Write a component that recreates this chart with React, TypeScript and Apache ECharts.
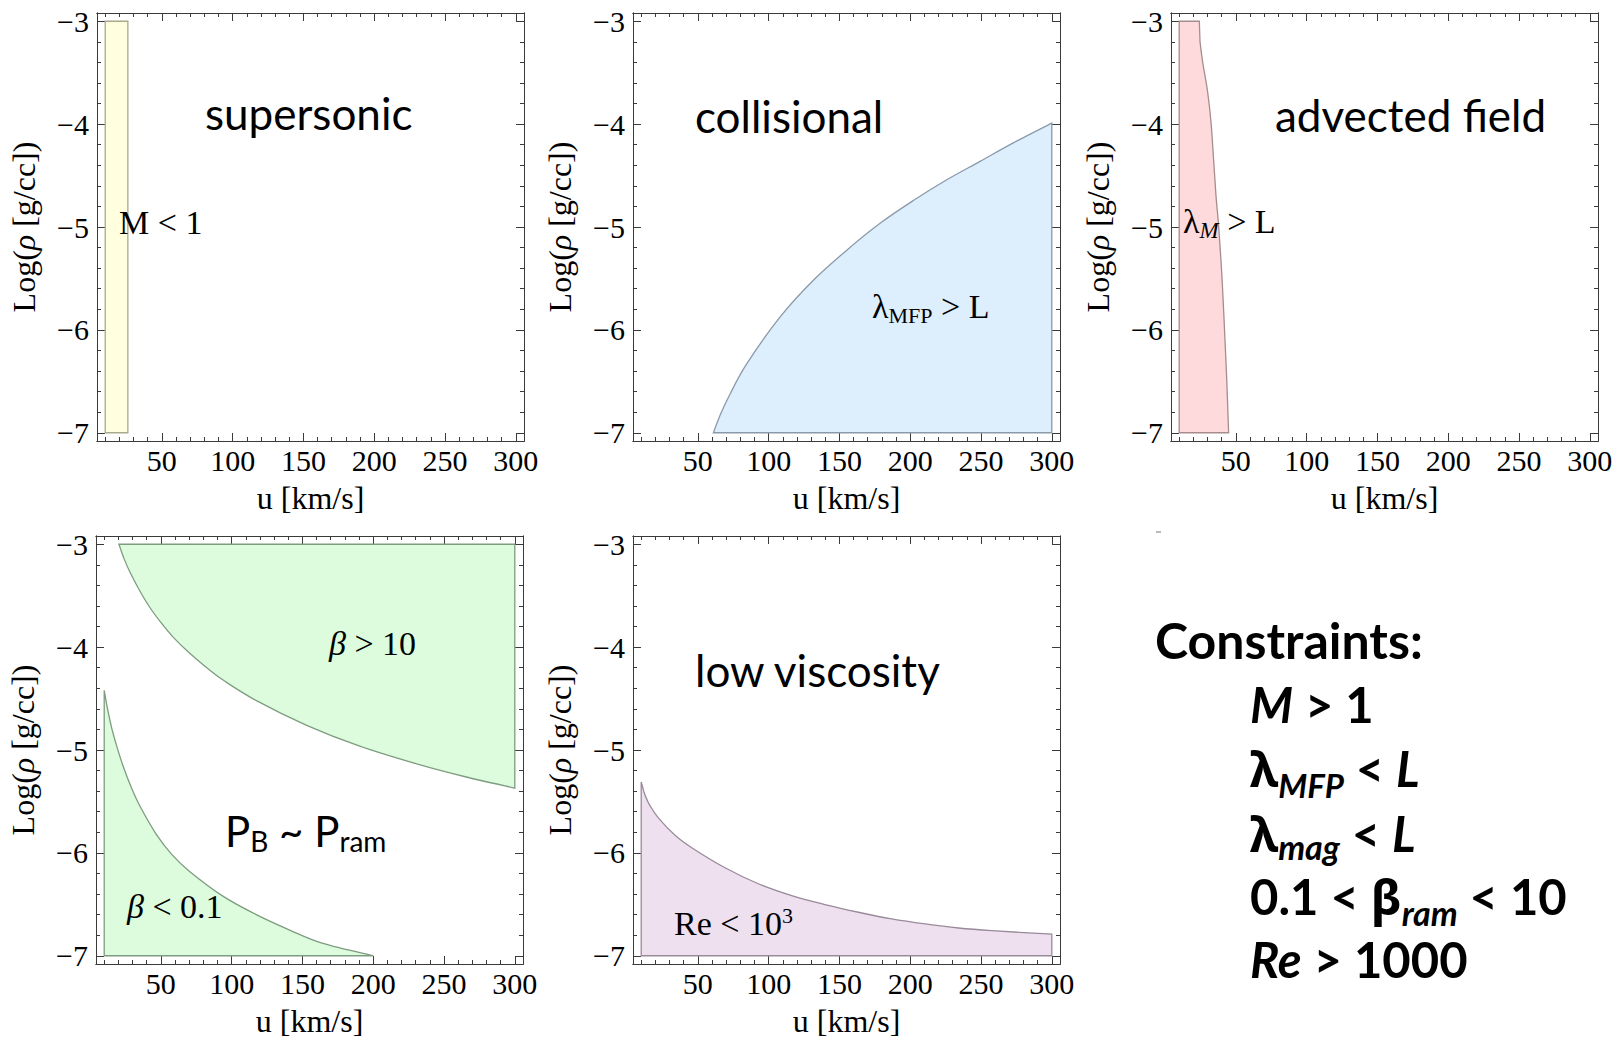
import React, { useEffect, useRef } from "react";
import * as echarts from "echarts";

// ---------- axis ranges & ticks ----------
const X_MIN = 4.2;
const X_MAX = 305.8;
const Y_MIN = -7.08;
const Y_MAX = -2.92;
const X_MAJOR_TICKS = [50, 100, 150, 200, 250, 300];
const X_MINOR_TICKS = [10, 20, 30, 40, 60, 70, 80, 90, 110, 120, 130, 140, 160, 170, 180, 190, 210, 220, 230, 240, 260, 270, 280, 290];
const Y_MAJOR_TICKS = [-7, -6, -5, -4, -3];
const Y_MINOR_TICKS = [-6.8, -6.6, -6.4, -6.2, -5.8, -5.6, -5.4, -5.2, -4.8, -4.6, -4.4, -4.2, -3.8, -3.6, -3.4, -3.2];

// ---------- region outlines (u [km/s], log rho) ----------
const SUPERSONIC_REGION = [[10, -7], [10, -3], [26, -3], [26, -7]];
const COLLISIONAL_REGION = [
  [61, -7], [66, -6.82], [72.7, -6.625], [84.5, -6.33], [108, -5.876], [131.6, -5.518], [155.2, -5.225],
  [178.7, -4.964], [202.2, -4.743], [225.8, -4.541], [249.3, -4.362], [272.8, -4.182], [300, -3.99], [300, -7],
];
const ADVECTED_REGION = [
  [10, -7], [10, -3], [24.2, -3], [24.7, -3.2], [26.6, -3.4], [30.1, -3.69], [32.5, -3.99], [34.3, -4.35],
  [36, -4.7], [37.9, -5.0], [40.2, -5.49], [41.9, -5.97], [43.5, -6.46], [44.9, -7],
];
const BETA_HIGH_REGION = [
  [300, -3], [300, -5.37], [265, -5.26], [232, -5.14], [190, -4.96], [153, -4.76], [117.5, -4.52], [95, -4.33],
  [82, -4.195], [70, -4.055], [58.5, -3.9], [50, -3.76], [42, -3.61], [35, -3.45], [28.5, -3.28], [24, -3.14], [20.4, -3],
];
const BETA_LOW_REGION = [
  [10, -7], [10, -4.42], [11, -4.5], [12, -4.575], [13, -4.645], [14.5, -4.74], [16.1, -4.83], [19, -4.97],
  [23.2, -5.15], [29, -5.36], [35, -5.54], [46.8, -5.82], [58, -6.02], [70.3, -6.18], [93.8, -6.42],
  [117.4, -6.6], [141, -6.75], [164.5, -6.88], [200, -7],
];
const VISCOUS_REGION = [
  [10, -7], [10, -5.31], [11, -5.36], [12, -5.41], [14, -5.48], [16.2, -5.54], [22.1, -5.66], [33.9, -5.829],
  [45.7, -5.95], [69.2, -6.145], [92.7, -6.3], [116.3, -6.415], [139.8, -6.502], [163.4, -6.577], [186.9, -6.642],
  [210.5, -6.691], [234, -6.73], [257.6, -6.756], [300, -6.79], [300, -7],
];

// ---------- fonts / colours ----------
const SERIF = "'Liberation Serif', 'Times New Roman', serif";
const SANS = "Lato, 'Noto Sans', sans-serif";
const GREEK = "'Noto Sans', 'DejaVu Sans', sans-serif";
const FRAME = "#3a3a3a";

const PANELS = [
  { left: 97, top: 13, width: 427, height: 428 },
  { left: 633, top: 13, width: 427, height: 428 },
  { left: 1171, top: 13, width: 427, height: 428 },
  { left: 96, top: 536, width: 427, height: 428 },
  { left: 633, top: 536, width: 427, height: 428 },
];

// curve: index range of the outline that is a smooth boundary curve (others are straight edges)
const REGIONS = [
  { panel: 0, name: "M < 1", data: SUPERSONIC_REGION, curve: [-1, -1], fill: "#FFFFE0", stroke: "#A9A98E" },
  { panel: 1, name: "lambda_MFP > L", data: COLLISIONAL_REGION, curve: [0, 12], fill: "#DDEEFD", stroke: "#8B9AAA" },
  { panel: 2, name: "lambda_M > L", data: ADVECTED_REGION, curve: [3, 13], fill: "#FFDADC", stroke: "#A68C8D" },
  { panel: 3, name: "beta > 10", data: BETA_HIGH_REGION, curve: [1, 16], fill: "#DDFCDD", stroke: "#7E9C80" },
  { panel: 3, name: "beta < 0.1", data: BETA_LOW_REGION, curve: [1, 18], fill: "#DDFCDD", stroke: "#7E9C80" },
  { panel: 4, name: "Re < 10^3", data: VISCOUS_REGION, curve: [1, 18], fill: "#EFE0F0", stroke: "#998B9A" },
];

type Seg = { t: string; size: number; fam: string; it?: boolean; b?: boolean; dy?: number };
type Note = { x: number; base: number; segs: Seg[] };

const NOTES: Note[] = [
  { x: 205, base: 130, segs: [{ t: "supersonic", size: 44, fam: SANS }] },
  { x: 119, base: 234, segs: [{ t: "M < 1", size: 34, fam: SERIF }] },
  { x: 695, base: 133, segs: [{ t: "collisional", size: 44, fam: SANS }] },
  { x: 872, base: 318, segs: [{ t: "λ", size: 34, fam: SERIF }, { t: "MFP", size: 22, fam: SERIF, dy: 5 }, { t: " > L", size: 34, fam: SERIF }] },
  { x: 1275, base: 132, segs: [{ t: "advected field", size: 44, fam: SANS }] },
  { x: 1183, base: 233, segs: [{ t: "λ", size: 34, fam: SERIF }, { t: "M", size: 23, fam: SERIF, it: true, dy: 5 }, { t: " > L", size: 34, fam: SERIF }] },
  { x: 329, base: 655, segs: [{ t: "β", size: 34, fam: SERIF, it: true }, { t: " > 10", size: 34, fam: SERIF }] },
  { x: 225, base: 847, segs: [{ t: "P", size: 42, fam: SANS }, { t: "B", size: 28, fam: SANS, dy: 5 }, { t: " ~ P", size: 42, fam: SANS }, { t: "ram", size: 28, fam: SANS, dy: 5 }] },
  { x: 127, base: 918, segs: [{ t: "β", size: 34, fam: SERIF, it: true }, { t: " < 0.1", size: 34, fam: SERIF }] },
  { x: 695, base: 687, segs: [{ t: "low viscosity", size: 44, fam: SANS }] },
  { x: 674, base: 935, segs: [{ t: "Re < 10", size: 34, fam: SERIF }, { t: "3", size: 22, fam: SERIF, dy: -12 }] },
  { x: 1155, base: 659, segs: [{ t: "Constraints:", size: 50, fam: SANS, b: true }] },
  { x: 1250, base: 723, segs: [{ t: "M", size: 49, fam: SANS, b: true, it: true }, { t: " > 1", size: 49, fam: SANS, b: true }] },
  { x: 1250, base: 787, segs: [{ t: "λ", size: 49, fam: GREEK, b: true }, { t: "MFP", size: 33, fam: SANS, b: true, it: true, dy: 11 }, { t: " < ", size: 49, fam: SANS, b: true }, { t: "L", size: 49, fam: SANS, b: true, it: true }] },
  { x: 1250, base: 852, segs: [{ t: "λ", size: 49, fam: GREEK, b: true }, { t: "mag", size: 34, fam: SANS, b: true, it: true, dy: 8 }, { t: " < ", size: 49, fam: SANS, b: true }, { t: "L", size: 49, fam: SANS, b: true, it: true }] },
  { x: 1250, base: 915, segs: [{ t: "0.1 < ", size: 49, fam: SANS, b: true }, { t: "β", size: 49, fam: GREEK, b: true }, { t: "ram", size: 34, fam: SANS, b: true, it: true, dy: 11 }, { t: " < 10", size: 49, fam: SANS, b: true }] },
  { x: 1250, base: 978, segs: [{ t: "Re", size: 49, fam: SANS, b: true, it: true }, { t: " > 1000", size: 49, fam: SANS, b: true }] },
];

function fmtY(v: number) {
  return v < 0 ? "\u2212" + Math.abs(v) : String(v);
}

function buildNotes(): any[] {
  const canvas = document.createElement("canvas");
  const ctx = canvas.getContext("2d") as CanvasRenderingContext2D;
  const els: any[] = [];
  for (const n of NOTES) {
    let x = n.x;
    for (const s of n.segs) {
      const font = `${s.it ? "italic" : "normal"} ${s.b ? "bold" : "normal"} ${s.size}px ${s.fam}`;
      ctx.font = font;
      const w = ctx.measureText(s.t).width;
      const k = s.fam === SERIF ? 0.3375 : 0.387;
      els.push({
        type: "text",
        x,
        y: n.base + (s.dy || 0) - k * s.size,
        z: 100,
        style: {
          text: s.t,
          font,
          fill: "#000",
          align: "left",
          verticalAlign: "middle",
          textAlign: "left",
          textVerticalAlign: "middle",
        },
      });
      x += w;
    }
  }
  els.push({ type: "line", z: 100, shape: { x1: 1156, y1: 532, x2: 1161, y2: 532 }, style: { stroke: "#777", lineWidth: 1 } });
  return els;
}

function outlinePath(c: number[][], a: number, b: number): string {
  const f = (p: number[]) => `${p[0].toFixed(2)},${p[1].toFixed(2)}`;
  let d = `M${f(c[0])}`;
  for (let i = 0; i < c.length - 1; i++) {
    const p1 = c[i];
    const p2 = c[i + 1];
    if (a >= 0 && i >= a && i + 1 <= b) {
      const p0 = c[Math.max(a, i - 1)];
      const p3 = c[Math.min(b, i + 2)];
      const c1 = [p1[0] + (p2[0] - p0[0]) / 6, p1[1] + (p2[1] - p0[1]) / 6];
      const c2 = [p2[0] - (p3[0] - p1[0]) / 6, p2[1] - (p3[1] - p1[1]) / 6];
      d += `C${f(c1)} ${f(c2)} ${f(p2)}`;
    } else {
      d += `L${f(p2)}`;
    }
  }
  return d + "Z";
}

function buildOption() {
  const grid: any[] = [];
  const xAxis: any[] = [];
  const yAxis: any[] = [];
  const series: any[] = [];
  const mainX: number[] = [];
  const mainY: number[] = [];

  PANELS.forEach((p, gi) => {
    grid.push({ left: p.left, top: p.top, width: p.width, height: p.height, containLabel: false });
    const xDefs = [
      { position: "bottom", ticks: X_MAJOR_TICKS, len: 8, labels: true },
      { position: "bottom", ticks: X_MINOR_TICKS, len: 4, labels: false },
      { position: "top", ticks: X_MAJOR_TICKS, len: 8, labels: false },
      { position: "top", ticks: X_MINOR_TICKS, len: 4, labels: false },
    ];
    xDefs.forEach((d, k) => {
      if (k === 0) mainX.push(xAxis.length);
      xAxis.push({
        type: "value",
        gridIndex: gi,
        position: d.position,
        min: X_MIN,
        max: X_MAX,
        axisLine: { show: true, onZero: false, lineStyle: { color: FRAME, width: 1 } },
        axisTick: { show: true, inside: true, length: d.len, customValues: d.ticks, lineStyle: { color: FRAME, width: 1 } },
        axisLabel: d.labels
          ? { show: true, customValues: X_MAJOR_TICKS, margin: 4, fontSize: 30, fontFamily: SERIF, color: "#000" }
          : { show: false },
        splitLine: { show: false },
        name: d.labels ? "u [km/s]" : "",
        nameLocation: "middle",
        nameGap: 41,
        nameTextStyle: { fontFamily: SERIF, fontSize: 32, color: "#000" },
      });
    });
    const yDefs = [
      { position: "left", ticks: Y_MAJOR_TICKS, len: 8, labels: true },
      { position: "left", ticks: Y_MINOR_TICKS, len: 4, labels: false },
      { position: "right", ticks: Y_MAJOR_TICKS, len: 8, labels: false },
      { position: "right", ticks: Y_MINOR_TICKS, len: 4, labels: false },
    ];
    yDefs.forEach((d, k) => {
      if (k === 0) mainY.push(yAxis.length);
      yAxis.push({
        type: "value",
        gridIndex: gi,
        position: d.position,
        min: Y_MIN,
        max: Y_MAX,
        axisLine: { show: true, onZero: false, lineStyle: { color: FRAME, width: 1 } },
        axisTick: { show: true, inside: true, length: d.len, customValues: d.ticks, lineStyle: { color: FRAME, width: 1 } },
        axisLabel: d.labels
          ? { show: true, customValues: Y_MAJOR_TICKS, margin: 8, fontSize: 30, fontFamily: SERIF, color: "#000", formatter: fmtY }
          : { show: false },
        splitLine: { show: false },
        name: d.labels ? "Log({i|ρ} [g/cc])" : "",
        nameLocation: "middle",
        nameRotate: 90,
        nameGap: 57,
        nameTextStyle: {
          fontFamily: SERIF,
          fontSize: 32,
          color: "#000",
          rich: { i: { fontFamily: SERIF, fontSize: 32, fontStyle: "italic", color: "#000" } },
        },
      });
    });
  });

  REGIONS.forEach((r) => {
    const pts = r.data;
    series.push({
      type: "custom",
      name: r.name,
      xAxisIndex: mainX[r.panel],
      yAxisIndex: mainY[r.panel],
      data: pts,
      encode: { x: 0, y: 1 },
      z: 2,
      silent: true,
      renderItem: (params: any, api: any) => {
        if (params.dataIndex !== 0) return null;
        const coords: number[][] = [];
        for (let i = 0; i < pts.length; i++) {
          coords.push(api.coord([api.value(0, i), api.value(1, i)]));
        }
        return {
          type: "path",
          shape: { pathData: outlinePath(coords, r.curve[0], r.curve[1]) },
          style: { fill: r.fill, stroke: r.stroke, lineWidth: 1.3 },
        };
      },
    });
  });

  return {
    animation: false,
    backgroundColor: "#ffffff",
    grid,
    xAxis,
    yAxis,
    series,
    graphic: buildNotes(),
  };
}

export default function App() {
  const ref = useRef<HTMLDivElement>(null);
  useEffect(() => {
    document.body.style.margin = "0";
    document.body.style.overflow = "hidden";
    const chart = echarts.init(ref.current as HTMLDivElement, undefined, { renderer: "svg" });
    chart.setOption(buildOption() as any);
    return () => chart.dispose();
  }, []);
  return <div ref={ref} style={{ width: 1621, height: 1041, background: "#fff" }} />;
}
